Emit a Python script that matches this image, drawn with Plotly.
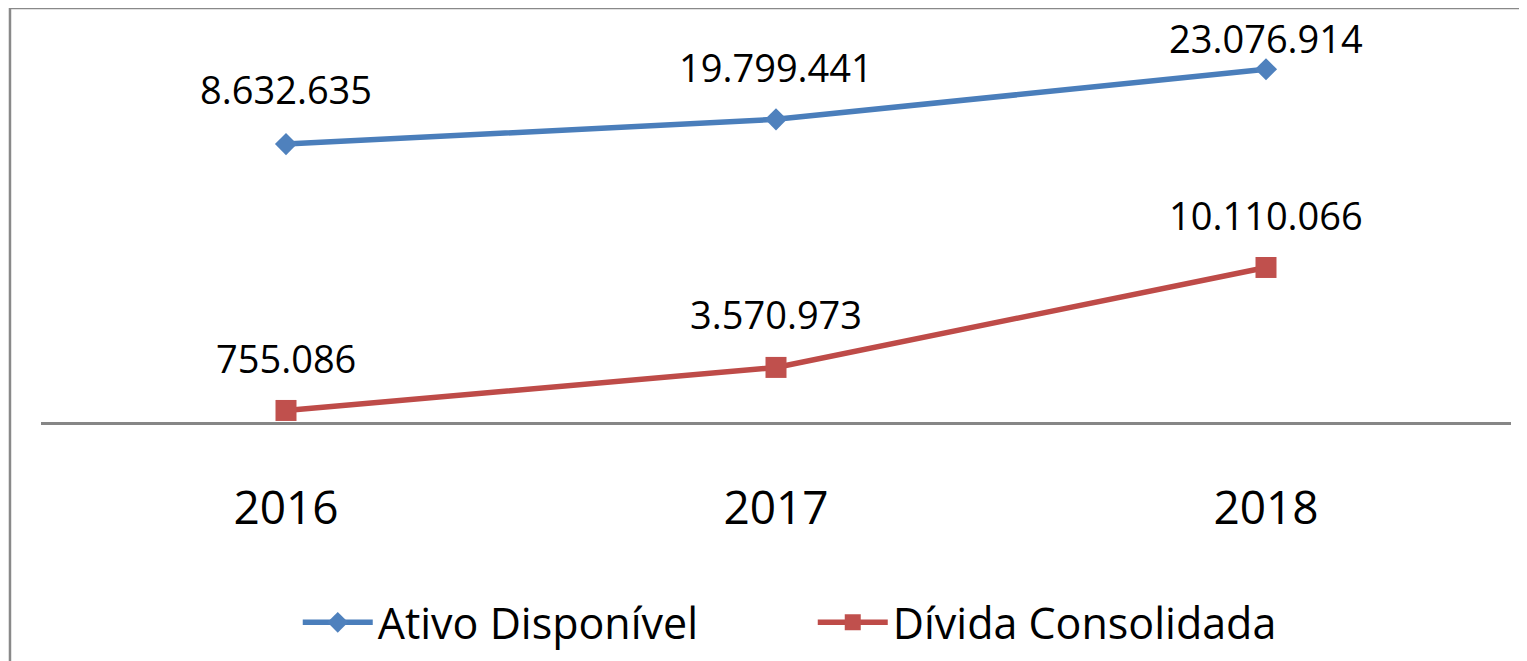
import plotly.graph_objects as go

years = ["2016", "2017", "2018"]
ativo_values = [18180000, 19799441, 23076914]
ativo_labels = ["8.632.635", "19.799.441", "23.076.914"]
divida_values = [755086, 3570973, 10110066]
divida_labels = ["755.086", "3.570.973", "10.110.066"]

BLUE = "#4A7EBB"
RED = "#BE4B48"
FONT = "Open Sans"

fig = go.Figure()
fig.add_trace(go.Scatter(
    x=years, y=ativo_values, name="Ativo Disponível", mode="lines+markers",
    line=dict(color=BLUE, width=5.5),
    marker=dict(symbol="diamond", size=17, color="#4F81BD"),
    cliponaxis=False,
))
fig.add_trace(go.Scatter(
    x=years, y=divida_values, name="Dívida Consolidada", mode="lines+markers",
    line=dict(color=RED, width=5.5),
    marker=dict(symbol="square", size=21, color="#C0504D"),
    cliponaxis=False,
))

ativo_shift = [55, 52, 31]
divida_shift = [52, 53, 52]
annotations = []
for i, (y, t, s) in enumerate(zip(ativo_values, ativo_labels, ativo_shift)):
    annotations.append(dict(x=i, y=y, text=t, showarrow=False, yshift=s,
                            xanchor="center", yanchor="middle",
                            font=dict(family=FONT, size=38, color="black")))
for i, (y, t, s) in enumerate(zip(divida_values, divida_labels, divida_shift)):
    annotations.append(dict(x=i, y=y, text=t, showarrow=False, yshift=s,
                            xanchor="center", yanchor="middle",
                            font=dict(family=FONT, size=38, color="black")))

fig.update_layout(
    width=1519, height=653,
    margin=dict(l=33, r=16, t=12, b=239, autoexpand=False),
    paper_bgcolor="white", plot_bgcolor="white",
    font=dict(family=FONT, color="black"),
    showlegend=True,
    legend=dict(orientation="h", x=0.525, xanchor="center", y=-0.4125, yanchor="top",
                font=dict(family=FONT, size=43, color="black"),
                itemwidth=70, entrywidth=430, traceorder="normal"),
    annotations=annotations,
    xaxis=dict(type="category", range=[-0.5, 2.5], showline=True,
               linecolor="#868686", linewidth=2.5, showgrid=False, zeroline=False,
               ticks="", tickfont=dict(family=FONT, size=46, color="black"),
               ticklabelstandoff=44),
    yaxis=dict(range=[0, 26300000], visible=False, showgrid=False, zeroline=False),
    shapes=[dict(type="rect", xref="paper", yref="paper",
                 x0=-0.0211, x1=1.2, y0=-0.8, y1=1.0299,
                 line=dict(color="#898989", width=2.5), fillcolor="rgba(0,0,0,0)",
                 layer="above")],
)

fig.write_html("out.html")
